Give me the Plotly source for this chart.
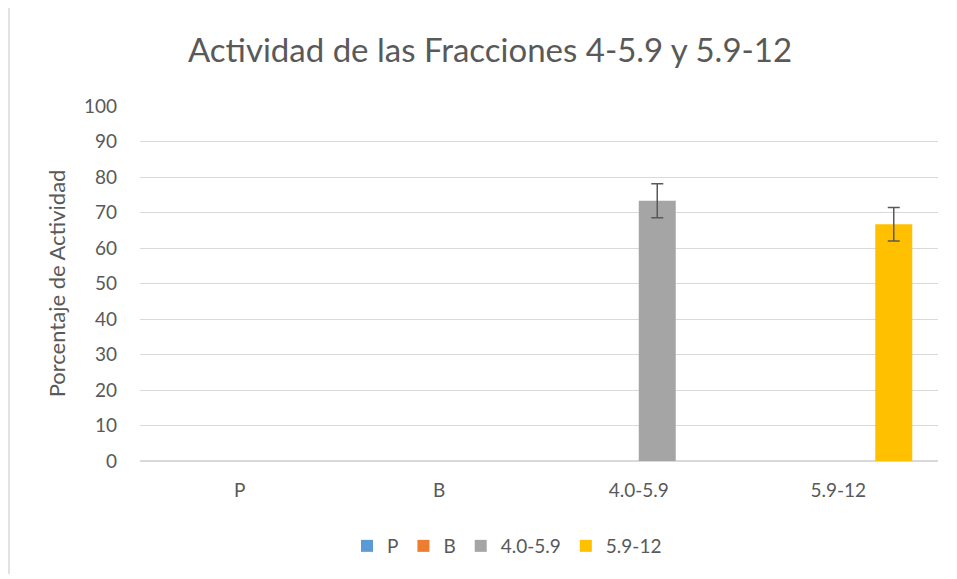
"""
Actividad de las Fracciones - clustered bar chart with error bars.
"""

import plotly.graph_objects as go


# ==========================================================
# DATA
# ==========================================================

CATEGORIES = ["P", "B", "4.0-5.9", "5.9-12"]

SERIES_NAMES = ["P", "B", "4.0-5.9", "5.9-12"]

P_VALUES = [None, None, None, None]
B_VALUES = [None, None, None, None]
F1_VALUES = [None, None, 73.3, None]
F2_VALUES = [None, None, None, 66.7]

P_ERRORS = [0, 0, 0, 0]
B_ERRORS = [0, 0, 0, 0]
F1_ERRORS = [0, 0, 4.8, 0]
F2_ERRORS = [0, 0, 0, 4.7]

Y_TICKS = [0, 10, 20, 30, 40, 50, 60, 70, 80, 90, 100]


# ==========================================================
# STYLE
# ==========================================================

COLORS = ["#5B9BD5", "#ED7D31", "#A5A5A5", "#FFC000"]

TEXT_COLOR = "#595959"
GRID_COLOR = "#D9D9D9"
FONT_FAMILY = "Lato, 'Open Sans', sans-serif"

# the page body adds an 8 px offset, so the figure is 8 px smaller
WIDTH = 949
HEIGHT = 571
PLOT_W = 798
PLOT_H = 355
MARGIN_L = 132
MARGIN_T = 98


# ==========================================================
# FIGURE
# ==========================================================

fig = go.Figure()

series = [
    (SERIES_NAMES[0], P_VALUES, P_ERRORS),
    (SERIES_NAMES[1], B_VALUES, B_ERRORS),
    (SERIES_NAMES[2], F1_VALUES, F1_ERRORS),
    (SERIES_NAMES[3], F2_VALUES, F2_ERRORS),
]

for (name, values, errors), color in zip(series, COLORS):
    fig.add_trace(
        go.Bar(
            name=name,
            x=CATEGORIES,
            y=values,
            marker=dict(color=color, line=dict(width=0)),
            error_y=dict(
                type="data",
                array=errors,
                visible=True,
                color="#595959",
                thickness=1.5,
                width=6,
            ),
        )
    )

fig.update_layout(
    width=WIDTH,
    height=HEIGHT,
    barmode="group",
    bargap=0.258,
    bargroupgap=0,
    plot_bgcolor="white",
    paper_bgcolor="white",
    font=dict(family=FONT_FAMILY, size=19, color=TEXT_COLOR),
    margin=dict(
        l=MARGIN_L,
        r=WIDTH - MARGIN_L - PLOT_W,
        t=MARGIN_T,
        b=HEIGHT - MARGIN_T - PLOT_H,
        pad=0,
    ),
    title=dict(
        text="Actividad de las Fracciones 4-5.9 y 5.9-12",
        x=482 / WIDTH,
        xanchor="center",
        y=1 - 42 / HEIGHT,
        yanchor="middle",
        font=dict(size=33, family=FONT_FAMILY, color=TEXT_COLOR),
    ),
    legend=dict(
        orientation="h",
        x=(499 - MARGIN_L) / PLOT_W,
        xanchor="center",
        y=-85 / PLOT_H,
        yanchor="middle",
        font=dict(size=19, color=TEXT_COLOR),
        itemwidth=30,
        traceorder="normal",
    ),
    showlegend=True,
)

fig.update_xaxes(
    showgrid=False,
    showline=True,
    linecolor=GRID_COLOR,
    linewidth=1,
    ticks="",
    tickfont=dict(size=19, color=TEXT_COLOR),
    ticklabelstandoff=12,
)

fig.update_yaxes(
    range=[0, 100],
    tickvals=Y_TICKS,
    showgrid=True,
    gridcolor=GRID_COLOR,
    gridwidth=1,
    zeroline=True,
    zerolinecolor=GRID_COLOR,
    showline=False,
    ticks="",
    tickfont=dict(size=19, color=TEXT_COLOR),
    ticklabelstandoff=22,
    title=dict(
        text="Porcentaje de Actividad",
        font=dict(size=22, color=TEXT_COLOR),
        standoff=12,
    ),
)

# chart frame edge visible on the left of the reference
fig.add_shape(
    type="line",
    xref="paper",
    yref="paper",
    x0=(1 - MARGIN_L) / PLOT_W,
    x1=(1 - MARGIN_L) / PLOT_W,
    y0=-(HEIGHT - MARGIN_T - PLOT_H - 5) / PLOT_H,
    y1=1 + MARGIN_T / PLOT_H,
    line=dict(color="#D9D9D9", width=1.5),
)

fig.write_html("out.html")
